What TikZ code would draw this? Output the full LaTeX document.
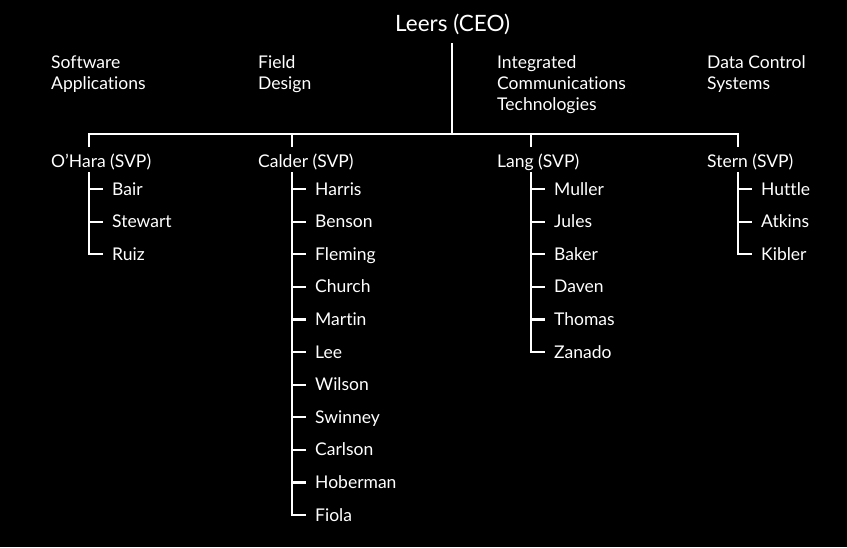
\documentclass[tikz,border=0pt]{standalone}
\usepackage{fontspec}
\setmainfont{Lato}[Ligatures={TeX,NoCommon}]
\usetikzlibrary{positioning,calc}
\tikzset{
	lbl/.style={anchor=base west, inner sep=0pt, text=white, align=left, font=\fontsize{17.5}{21}\selectfont},
	mem/.style={anchor=west, inner xsep=9pt, inner ysep=0pt, text height=12pt, text depth=0pt, text=white, font=\fontsize{17.5}{21}\selectfont},
	wire/.style={white, line width=2.2pt},
}
\begin{document}
\begin{tikzpicture}[x=1pt,y=-1pt]
	\fill[black] (0,0) rectangle (847,547);
	\useasboundingbox (0,0) rectangle (847,547);
	%\draw[gray] (0,0) grid[step=50] (847,547);

	\node[lbl, font=\fontsize{22.5}{25}\selectfont] (ceo) at (395,31) {Leers (CEO)};
	\coordinate (ceotop) at (452,43);
	\coordinate (bar) at (452,134);

	% base of a multi-line node is its last line
	\node[lbl] (sw) at (51,89) {Software\\Applications};
	\node[lbl] (fd) at (258,89) {Field\\Design};
	\node[lbl] (ict) at (497,110) {Integrated\\Communications\\Technologies};
	\node[lbl] (dcs) at (707,89) {Data Control\\Systems};

	\node[lbl] (ohara) at (51,167) {O'Hara (SVP)};
	\node[lbl] (calder) at (258,167) {Calder (SVP)};
	\node[lbl] (lang) at (497,167) {Lang (SVP)};
	\node[lbl] (stern) at (707,167) {Stern (SVP)};

	\coordinate (dropA) at (89,147);
	\coordinate (dropB) at (292,147);
	\coordinate (dropC) at (531,147);
	\coordinate (dropD) at (738,147);
	\draw[wire] (ceotop) -- (bar);
	\draw[wire] (dropA) |- (bar) -| (dropD);
	\draw[wire] (dropB) -- (dropB |- bar);
	\draw[wire] (dropC) -- (dropC |- bar);

	\coordinate (ohs) at (89,172);
	\coordinate (cas) at (292,172);
	\coordinate (las) at (531,172);
	\coordinate (sts) at (738,172);

	\foreach \n [count=\i] in {Bair,Stewart,Ruiz}
		\node[mem] (oh\i) at (103,156.4+32.6*\i) {\n};
	\foreach \n [count=\i] in {Harris,Benson,Fleming,Church,Martin,Lee,Wilson,Swinney,Carlson,Hoberman,Fiola}
		\node[mem] (ca\i) at (306,156.4+32.6*\i) {\n};
	\foreach \n [count=\i] in {Muller,Jules,Baker,Daven,Thomas,Zanado}
		\node[mem] (la\i) at (545,156.4+32.6*\i) {\n};
	\foreach \n [count=\i] in {Huttle,Atkins,Kibler}
		\node[mem] (st\i) at (752,156.4+32.6*\i) {\n};

	\draw[wire] (ohs) |- (oh3.west);
	\draw[wire] (cas) |- (ca11.west);
	\draw[wire] (las) |- (la6.west);
	\draw[wire] (sts) |- (st3.west);
	\foreach \i in {1,2} \draw[wire] (oh\i.west -| ohs) -- (oh\i.west);
	\foreach \i in {1,...,10} \draw[wire] (ca\i.west -| cas) -- (ca\i.west);
	\foreach \i in {1,...,5} \draw[wire] (la\i.west -| las) -- (la\i.west);
	\foreach \i in {1,2} \draw[wire] (st\i.west -| sts) -- (st\i.west);
\end{tikzpicture}
\end{document}
